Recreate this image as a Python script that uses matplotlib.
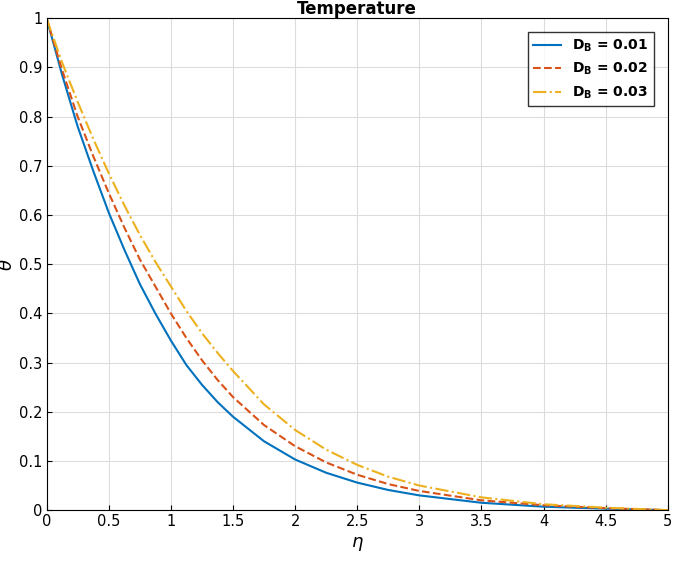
import matplotlib.pyplot as plt
import numpy as np

# data
eta = [0, 0.125, 0.25, 0.375, 0.5, 0.625, 0.75, 0.875, 1, 1.125, 1.25, 1.375, 1.5, 1.75, 2, 2.25, 2.5, 2.75, 3, 3.5, 4, 4.5, 5]
theta_01 = [1, 0.885, 0.78, 0.69, 0.605, 0.53, 0.46, 0.40, 0.345, 0.295, 0.255, 0.22, 0.19, 0.14, 0.103, 0.076, 0.056, 0.041, 0.03, 0.015, 0.007, 0.003, 0]
theta_02 = [1, 0.895, 0.80, 0.72, 0.645, 0.575, 0.51, 0.455, 0.40, 0.35, 0.305, 0.265, 0.23, 0.173, 0.13, 0.097, 0.072, 0.053, 0.039, 0.02, 0.01, 0.004, 0]
theta_03 = [1, 0.91, 0.83, 0.755, 0.685, 0.62, 0.56, 0.505, 0.455, 0.405, 0.36, 0.32, 0.283, 0.215, 0.163, 0.123, 0.092, 0.068, 0.05, 0.026, 0.012, 0.005, 0]

fig = plt.figure(figsize=(6.85, 5.7), dpi=100)
ax = fig.add_axes([0.068, 0.105, 0.907, 0.863])

ax.plot(eta, theta_01, color="#0072BD", lw=1.5, ls="-", label=r"$\mathbf{D_B}$ = 0.01")
ax.plot(eta, theta_02, color="#D95319", lw=1.5, ls="--", label=r"$\mathbf{D_B}$ = 0.02")
ax.plot(eta, theta_03, color="#EDB120", lw=1.5, ls="-.", label=r"$\mathbf{D_B}$ = 0.03")

ax.set_xlim(0, 5)
ax.set_ylim(0, 1)
ax.set_xticks(np.arange(0, 5.01, 0.5))
ax.set_xticklabels(["0", "0.5", "1", "1.5", "2", "2.5", "3", "3.5", "4", "4.5", "5"])
ax.set_yticks(np.arange(0, 1.01, 0.1))
ax.set_yticklabels(["0", "0.1", "0.2", "0.3", "0.4", "0.5", "0.6", "0.7", "0.8", "0.9", "1"])
ax.grid(True, color="#dcdcdc", lw=0.8)
ax.tick_params(direction="in", labelsize=10.5, pad=3)
ax.set_xlabel(r"$\eta$", fontsize=13)
ax.set_ylabel(r"$\theta$", fontsize=13, labelpad=2)
ax.set_title("Temperature", fontsize=12, fontweight="bold", pad=2)
leg = ax.legend(loc="upper right", fancybox=False, edgecolor="black",
                prop={"weight": "bold", "size": 10}, borderaxespad=1.0)
leg.get_frame().set_linewidth(1.0)

plt.savefig("out.png")
